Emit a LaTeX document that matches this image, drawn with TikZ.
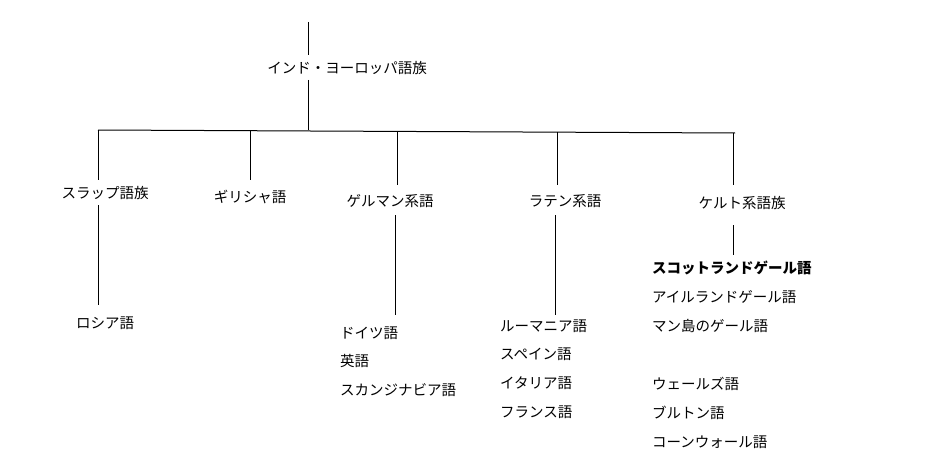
\documentclass[tikz,border=0pt]{standalone}
\usepackage{fontspec}
\newfontfamily\cjk{Noto Sans CJK JP}
\begin{document}
\begin{tikzpicture}[x=1pt,y=-1pt,
  lbl/.style={font=\cjk\fontsize{14.5}{16}\selectfont,inner sep=0pt},
  leaf/.style={lbl,anchor=west},
  ln/.style={line width=1pt}]
\useasboundingbox (0,0) rectangle (938,460);
\node[lbl] (root) at (347,68) {インド・ヨーロッパ語族};
\coordinate (t0) at (308,22); \coordinate (t1) at (308,55);
\coordinate (r0) at (308,80); \coordinate (r1) at (308,130);
\draw[ln] (t0)--(t1); \draw[ln] (r0)--(r1);
\coordinate (hL) at (98,130); \coordinate (hR) at (735,133);
\draw[ln] (hL)--(hR);
\node[lbl] (sla) at (105,193) {スラップ語族};
\node[lbl] (gre) at (250,197) {ギリシャ語};
\node[lbl] (ger) at (390,201) {ゲルマン系語};
\node[lbl] (lat) at (565,201) {ラテン系語};
\node[lbl] (cel) at (742,203) {ケルト系語族};
\foreach \x/\a/\b in {98/130/180,250/131/180,397/131/185,557/132/185,733/133/185}
  {\coordinate (a) at (\x,\a); \coordinate (b) at (\x,\b); \draw[ln] (a)--(b);}
\foreach \x/\a/\b in {98/205/305,395/215/315,555/215/315,733/225/255}
  {\coordinate (a) at (\x,\a); \coordinate (b) at (\x,\b); \draw[ln] (a)--(b);}
\node[lbl] (rus) at (105,323) {ロシア語};
\node[leaf] (de) at (340,333) {ドイツ語};
\node[leaf] (en) at (340,361) {英語};
\node[leaf] (sc) at (340,390) {スカンジナビア語};
\node[leaf] (ro) at (500,326) {ルーマニア語};
\node[leaf] (es) at (500,354) {スペイン語};
\node[leaf] (it) at (500,383) {イタリア語};
\node[leaf] (fr) at (500,412) {フランス語};
\node[leaf,font=\cjk\bfseries\fontsize{14.5}{16}\selectfont] (gd) at (652,268) {スコットランドゲール語};
\node[leaf] (ga) at (652,297) {アイルランドゲール語};
\node[leaf] (gv) at (652,326) {マン島のゲール語};
\node[leaf] (cy) at (652,384) {ウェールズ語};
\node[leaf] (br) at (652,413) {ブルトン語};
\node[leaf] (kw) at (652,442) {コーンウォール語};
\end{tikzpicture}
\end{document}
